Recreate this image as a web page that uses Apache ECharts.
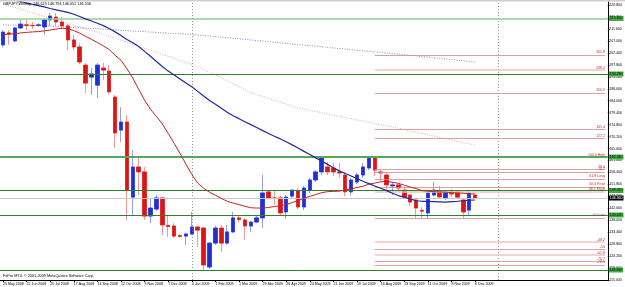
<!DOCTYPE html>
<html><head><meta charset="utf-8">
<script src="https://cdn.jsdelivr.net/npm/echarts@6/dist/echarts.min.js"></script>
<style>html,body{margin:0;padding:0;background:#fff;overflow:hidden}#c{width:625px;height:287px}</style>
</head><body><div id="c"></div>
<script>
// ---- data (GBPJPY weekly) ----
const startDate = '2008-05-25';
const tickLabels = ['25 May 2008','22 Jun 2008','20 Jul 2008','17 Aug 2008','14 Sep 2008','12 Oct 2008','9 Nov 2008','7 Dec 2008','4 Jan 2009','1 Feb 2009','1 Mar 2009','29 Mar 2009','26 Apr 2009','24 May 2009','21 Jun 2009','19 Jul 2009','16 Aug 2009','13 Sep 2009','11 Oct 2009','8 Nov 2009','6 Dec 2009'];
const opens  = [205.5,210.1,207.0,212.0,213.2,213.0,213.0,212.4,215.1,216.2,214.3,212.8,207.4,204.7,197.7,193.1,190.0,196.6,195.4,185.4,172.7,175.8,146.9,158.5,156.6,139.6,142.3,146.6,136.0,135.8,132.1,131.9,132.7,135.4,135.0,120.0,129.2,135.0,129.2,133.5,138.9,138.1,135.8,137.3,138.9,148.9,146.6,146.6,141.2,147.3,149.3,143.1,149.6,153.5,156.6,158.5,158.1,156.6,155.4,148.9,152.7,155.4,158.1,162.0,156.6,155.4,151.2,151.6,149.6,147.7,145.8,141.8,140.8,147.7,149.3,146.6,148.9,148.9,145.8,141.9,147.7];
const closes = [210.4,209.7,212.0,213.5,213.0,212.9,213.2,215.1,216.6,214.3,212.8,207.4,204.7,198.9,190.8,194.3,197.7,195.8,187.4,171.6,175.8,149.6,158.5,156.6,139.6,142.7,146.6,136.2,135.6,131.9,131.8,132.7,135.4,134.2,120.8,129.2,135.0,129.2,133.5,138.9,138.3,135.8,137.3,138.9,148.5,146.6,146.4,140.8,146.9,149.6,143.1,150.4,153.5,156.6,162.0,156.6,156.6,156.2,148.9,153.5,155.4,158.5,162.0,157.3,156.2,151.6,151.6,150.4,146.9,145.0,142.7,141.5,148.5,149.6,147.0,148.9,148.1,146.9,141.2,148.5,146.6];
const lows   = [204.5,205.5,206.5,211.6,211.2,211.6,212.4,209.3,212.8,212.8,211.6,203.5,203.5,198.0,187.0,186.2,185.0,192.0,186.5,165.8,168.1,138.1,140.0,147.7,138.1,136.9,141.6,132.3,131.6,131.2,131.2,128.5,132.3,127.7,118.8,119.2,128.5,125.8,128.5,133.1,137.3,130.4,133.5,136.9,135.0,146.2,143.9,140.0,138.5,146.6,142.3,141.9,148.5,152.7,155.4,155.4,155.0,154.3,147.3,147.5,151.9,154.3,157.3,155.0,153.1,149.6,147.7,148.9,146.2,143.5,138.9,138.9,138.5,147.3,146.2,145.8,146.9,146.2,138.9,140.0,146.2];
const highs  = [211.2,211.2,212.4,215.1,215.1,214.3,213.9,215.5,217.8,217.8,216.2,213.5,209.3,206.2,198.5,196.6,198.5,198.5,197.7,186.2,181.6,178.5,165.0,162.3,158.5,146.6,147.7,147.0,140.0,136.9,132.7,133.1,141.2,135.8,135.4,129.6,135.8,136.2,136.2,141.2,139.6,138.9,137.7,140.0,155.4,149.6,149.6,147.3,147.7,150.0,150.4,151.2,154.3,157.3,162.3,160.4,160.0,160.0,156.6,154.3,156.2,160.0,162.5,162.3,157.7,156.2,152.7,152.3,150.4,148.1,146.2,143.1,149.6,152.7,151.2,149.6,150.0,149.6,146.6,149.3,148.1];
const maRed  = [209.4,209.6,209.8,210.1,210.3,210.5,210.6,210.9,211.2,211.6,211.9,211.7,211.0,210.0,208.8,207.6,206.4,205.1,203.7,201.5,199.6,196.3,192.7,188.4,184.2,180.7,177.9,175.1,171.4,167.6,163.7,159.6,155.6,152.3,150.3,148.8,147.6,146.4,145.3,144.6,144.0,143.4,142.8,142.7,142.7,142.9,143.3,143.6,144.0,144.8,145.6,146.4,147.2,147.9,148.6,149.0,149.1,149.2,149.6,150.1,150.6,151.1,151.9,152.3,152.8,153.0,152.6,152.2,151.5,150.8,150.2,149.4,149.2,149.0,148.9,148.8,148.6,148.5,148.4,148.2,148.1];
const maBlue = [223.7,223.2,222.7,222.2,221.6,221.1,220.6,220.1,219.5,219.0,218.5,218.0,217.3,216.4,215.5,214.7,213.8,212.9,211.8,210.5,209.1,207.6,206.3,204.9,203.0,201.1,199.1,197.2,195.4,193.9,192.4,190.8,189.4,187.6,185.8,184.1,182.6,181.1,179.6,178.2,177.1,175.9,174.8,173.7,172.5,171.4,170.3,169.3,168.2,167.0,165.8,164.5,163.3,162.0,160.8,159.5,158.2,157.0,156.0,155.0,154.0,153.0,152.1,151.2,150.3,149.4,148.4,147.5,146.9,146.2,145.5,145.3,145.3,145.2,145.1,145.0,145.2,145.3,145.5,145.7,145.8];
const maPinkDot = [221.2,220.5,219.9,219.2,218.5,217.8,217.1,216.5,215.8,215.1,214.5,213.8,213.1,212.4,211.7,211.0,210.4,209.6,208.8,208.1,207.3,206.5,205.7,205.0,204.2,203.4,202.6,201.8,201.1,200.3,199.5,198.7,198.0,197.1,196.1,195.0,193.9,192.8,191.6,190.5,189.4,188.2,187.1,186.3,185.6,184.9,184.1,183.4,182.7,181.9,181.2,180.7,180.3,179.8,179.4,178.9,178.4,178.0,177.5,177.1,176.6,176.2,175.7,175.2,174.8,174.3,173.9,173.4,172.9,172.4,171.9,171.4,170.9,170.4,169.9,169.4,168.9,168.4,167.9,167.4,166.9];
const maBlueDot = [213.2,213.1,213.1,213.0,213.0,212.9,212.9,212.8,212.8,212.6,212.5,212.3,212.2,212.1,211.9,211.8,211.7,211.5,211.4,211.3,211.1,211.0,210.8,210.7,210.6,210.4,210.3,210.1,210.0,209.9,209.8,209.6,209.5,209.3,209.1,208.9,208.7,208.5,208.3,208.0,207.8,207.6,207.4,207.1,207.0,206.7,206.5,206.3,206.1,205.8,205.6,205.4,205.2,205.0,204.8,204.5,204.3,204.1,203.9,203.7,203.4,203.2,203.0,202.8,202.6,202.4,202.1,202.0,201.7,201.5,201.3,201.0,200.8,200.5,200.3,200.1,199.8,199.6,199.4,199.1,198.9];
const hLevels = [215.65,194.29,162.34,149.45,140.02,118.85];
const fibValues = [201.6,195.8,187.0,173.1,169.6,162.3,157.7,156.6,153.9,150.8,148.9,138.9,129.6,126.9,124.6,122.3,120.8];
const fibLabels = ['261.8','238.2','200.0','141.4','127.2','100.0 High','78.6','70.7','61.8 Long','50.0 Pivot','38.2 Short','0.0 Low','-38.2','-50','-61.8','-70.7','-78.6'];
const lastPrice = 146.556;
const headerText = 'GBPJPY,Weekly  146.625 146.794 146.052 146.556';
const footerText = 'FxPro MT4, \u00a9 2001-2009 MetaQuotes Software Corp.';

// ---- build ----
const N = 103, nBars = opens.length, fibStart = 63, sepIdx = [32, 84];
const cats = [];
const d0 = new Date(startDate + 'T00:00:00Z');
for (let i = 0; i < N; i++) { const d = new Date(d0.getTime() + i * 7 * 86400000); cats.push(d.toISOString().slice(0, 10)); }
const ohlc = opens.map((o, i) => [o, closes[i], lows[i], highs[i]]);
const bodies = opens.map((o, i) => [o, closes[i], Math.min(o, closes[i]), Math.max(o, closes[i])]);
const isTick = i => i % 4 === 0 && i < nBars;
const FONT = 'Liberation Sans';

const thickFib = {'238.2':1, '38.2 Short':1, '-38.2':1, '-61.8':1};
const fibData = fibValues.map((v, k) => {
  const thick = thickFib[fibLabels[k]];
  return [{coord: [fibStart, v], name: fibLabels[k],
           lineStyle: {color: thick ? '#f2c4c4' : '#cf8a8a', width: thick ? 1.6 : 0.8, type: 'solid'}},
          {coord: [N - 1, v]}];
});

const hColors = ['#93cf93', '#2f7f2f', '#55a855', '#2f7f2f', '#2f7f2f', '#2f7f2f'];
const hWidths = [1.6, 1, 1.8, 1, 1, 1];

const chart = echarts.init(document.getElementById('c'), null, {renderer: 'canvas'});
chart.setOption({
  animation: false,
  backgroundColor: '#ffffff',
  textStyle: {fontFamily: FONT},
  grid: {left: -1, top: 2, width: 612, height: 278, containLabel: false},
  xAxis: {
    type: 'category', data: cats, boundaryGap: true,
    axisLine: {show: true, lineStyle: {color: '#000', width: 1}},
    axisTick: {show: true, interval: isTick, alignWithLabel: true, length: 2, lineStyle: {color: '#000'}},
    axisLabel: {interval: isTick, formatter: (v, i) => tickLabels[i / 4] || '', align: 'left',
                fontSize: 3.6, color: '#000', margin: 2, showMinLabel: true, hideOverlap: false, fontFamily: FONT},
    splitLine: {show: false}
  },
  yAxis: {
    type: 'value', position: 'right', min: 115, max: 222, interval: 4.6, scale: true,
    axisLine: {show: true, lineStyle: {color: '#000', width: 1}},
    axisTick: {show: true, length: 1.5, lineStyle: {color: '#000'}},
    axisLabel: {fontSize: 3.5, color: '#000', margin: 1.5, showMaxLabel: false,
                formatter: v => v.toFixed(3), fontFamily: FONT},
    splitLine: {show: false}
  },
  series: [
    {type: 'line', data: [], silent: true, z: 1,
     markLine: {silent: true, symbol: 'none', animation: false,
       data: sepIdx.map(i => ({xAxis: i})),
       lineStyle: {color: '#777', type: [1, 2], width: 0.8}, label: {show: false}}},
    {type: 'line', data: [], silent: true, z: 1,
     markLine: {silent: true, symbol: 'none', animation: false, data: fibData,
       label: {show: true, position: 'insideEndTop', formatter: p => p.name, fontSize: 3.5,
               color: '#c03030', distance: [0, 0.5], fontFamily: FONT}}},
    {type: 'line', data: [], silent: true, z: 3,
     markLine: {silent: true, symbol: 'none', animation: false,
       data: hLevels.map((v, k) => ({yAxis: v, lineStyle: {color: hColors[k], width: hWidths[k], type: 'solid'}})),
       label: {show: true, position: 'end', distance: 1, formatter: p => Number(p.value).toFixed(3),
               fontSize: 3.5, color: '#000', backgroundColor: '#3fae3f', padding: [0.5, 1], fontFamily: FONT}}},
    {type: 'line', data: [], silent: true, z: 1,
     markLine: {silent: true, symbol: 'none', animation: false,
       data: [{yAxis: lastPrice}],
       lineStyle: {color: '#c8c8c8', width: 1, type: 'solid'},
       label: {show: true, position: 'end', distance: 1, formatter: p => Number(p.value).toFixed(3),
               fontSize: 3.5, color: '#fff', backgroundColor: '#000', padding: [0.5, 1], fontFamily: FONT}}},
    {type: 'line', data: maPinkDot, symbol: 'none', z: 2, silent: true,
     lineStyle: {color: '#e3a7a7', width: 1, type: [1, 1.5]}},
    {type: 'line', data: maBlueDot, symbol: 'none', z: 2, silent: true,
     lineStyle: {color: '#8a86cc', width: 1, type: [1, 1.5]}},
    {type: 'candlestick', data: ohlc, barWidth: 4, z: 3, silent: true,
     itemStyle: {color: '#2030d8', color0: '#e01414', borderColor: '#9c9ce2', borderColor0: '#ef9a9a', borderWidth: 1}},
    {type: 'candlestick', data: bodies, barWidth: 4, z: 4, silent: true,
     itemStyle: {color: '#2030d8', color0: '#e01414', borderColor: '#2030d8', borderColor0: '#e01414', borderWidth: 0.6}},
    {type: 'line', data: maRed, symbol: 'none', z: 5, silent: true,
     lineStyle: {color: '#c8231e', width: 1}},
    {type: 'line', data: maBlue, symbol: 'none', z: 5, silent: true,
     lineStyle: {color: '#1f2a9c', width: 1.2}}
  ],
  graphic: [
    {type: 'rect', shape: {x: 0, y: 0, width: 625, height: 1.5}, style: {fill: '#cfcfcf'}, z: 0, silent: true},
    {type: 'text', left: 3, top: 2, z: 10, silent: true,
     style: {text: headerText, fontSize: 3.8, fill: '#000', fontFamily: FONT}},
    {type: 'text', left: 3, top: 274, z: 10, silent: true,
     style: {text: footerText, fontSize: 3.8, fill: '#000', fontFamily: FONT}}
  ]
});
</script>
</body></html>
